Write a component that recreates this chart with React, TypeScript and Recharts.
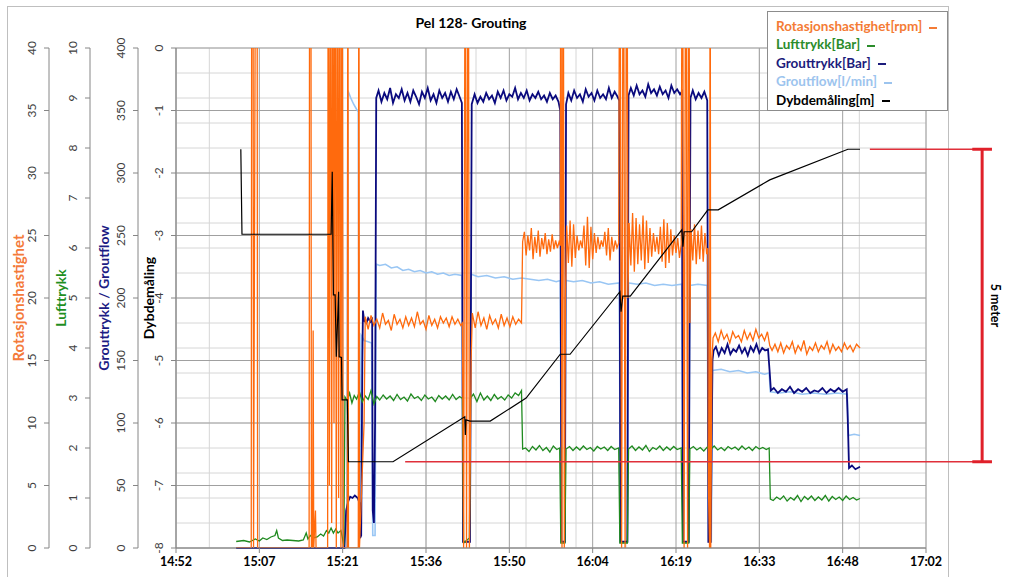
import React from "react";
import { LineChart, Line, XAxis, YAxis, CartesianGrid, ReferenceLine } from "recharts";

// time in minutes after midnight, values in the unit of each axis
const timeTicks = [892.8, 907.2, 921.6, 936, 950.4, 964.8, 979.2, 993.6, 1008, 1022.4];
const timeLabels = ["14:52", "15:07", "15:21", "15:36", "15:50", "16:04", "16:19", "16:33", "16:48", "17:02"];
const depthTicks = [-8, -7, -6, -5, -4, -3, -2, -1, 0];
const groutTicks = [0, 50, 100, 150, 200, 250, 300, 350, 400];
const luftTicks = [0, 1, 2, 3, 4, 5, 6, 7, 8, 9, 10];
const rotTicks = [0, 5, 10, 15, 20, 25, 30, 35, 40];

const rotasjon: [number, number][] = [
  [903.2, 0], [905.8, 0], [905.9, 60], [906.1, 60], [906.2, 0], [906.6, 60], [906.8, 60], [906.9, 0],
  [915.8, 0], [915.9, 60], [916.1, 60], [916.2, 0], [916.4, 0], [916.5, 17.4], [916.6, 0], [916.9, 3], [917.0, 0],
  [919.0, 0], [919.1, 60], [919.3, 5], [919.5, 60], [919.7, 2], [919.9, 60], [920.1, 10], [920.3, 60], [920.5, 0],
  [920.7, 60], [920.9, 4], [921.1, 60], [921.3, 0], [921.5, 60], [921.7, 0], [922.4, 0], [922.5, 60], [922.6, 0],
  [924.3, 0], [924.4, 60], [924.5, 0], [925.3, 10], [925.5, 18.5],
  [926.0, 17.5], [926.5, 18.6], [927.0, 17.8], [927.5, 18.3], [928.0, 17.6], [928.5, 18.8], [929.0, 17.9], [929.5, 18.2],
  [930.0, 17.4], [930.5, 18.7], [931.0, 17.9], [931.5, 18.3], [932.0, 17.6], [932.5, 18.5], [933.0, 17.8], [933.5, 18.4],
  [934.0, 17.7], [934.5, 18.9], [935.0, 17.9], [935.5, 18.2], [936.0, 17.5], [936.5, 18.6], [937.0, 17.8], [937.5, 18.3],
  [938.0, 17.6], [938.5, 18.5], [939.0, 18.0], [939.5, 18.4], [940.0, 17.7], [940.5, 18.5], [941.0, 17.9], [941.5, 18.3],
  [942.0, 17.8], [942.3, 18.0], [942.5, 0], [942.8, 60], [943.0, 0], [943.3, 60], [943.5, 0], [943.8, 15], [944.0, 18.8],
  [944.5, 17.6], [945.0, 18.9], [945.5, 17.8], [946.0, 18.4], [946.5, 17.5], [947.0, 18.6], [947.5, 17.9], [948.0, 18.3],
  [948.5, 17.6], [949.0, 18.7], [949.5, 17.8], [950.0, 18.4], [950.5, 17.7], [951.0, 18.5], [951.5, 17.9], [952.0, 18.3],
  [952.5, 18.0], [952.7, 24.5],
  [953.0, 25.3], [953.3, 23.4], [953.6, 25.0], [953.9, 23.8], [954.2, 25.6], [954.5, 23.1], [954.8, 24.9], [955.1, 23.6],
  [955.4, 25.4], [955.7, 23.3], [956.0, 24.8], [956.3, 23.9], [956.6, 25.2], [956.9, 23.5], [957.2, 24.7], [957.5, 23.7],
  [957.8, 25.1], [958.1, 23.9], [958.4, 24.6], [958.7, 24.0], [959.0, 24.5], [959.2, 24.2], [959.3, 60], [959.5, 0],
  [959.7, 60], [959.9, 0], [960.1, 20], [960.3, 25.8],
  [960.6, 22.8], [960.9, 26.2], [961.2, 22.5], [961.5, 25.9], [961.8, 23.2], [962.1, 25.0], [962.4, 23.8], [962.7, 24.6],
  [963.0, 24.0], [963.3, 25.8], [963.6, 22.6], [963.9, 26.5], [964.2, 22.4], [964.5, 25.7], [964.8, 23.1], [965.1, 25.2],
  [965.4, 23.6], [965.7, 24.9], [966.0, 23.9], [966.3, 24.6], [966.6, 24.1], [966.9, 25.3], [967.2, 23.4], [967.5, 25.6],
  [967.8, 23.0], [968.1, 24.9], [968.4, 23.7], [968.7, 24.6], [969.0, 24.0], [969.3, 24.4], [969.5, 60], [969.8, 0],
  [970.1, 60], [970.4, 0], [970.7, 60], [970.9, 20], [971.1, 26.0],
  [971.4, 22.6], [971.7, 26.8], [972.0, 22.1], [972.3, 26.4], [972.6, 22.7], [972.9, 25.9], [973.2, 23.0], [973.5, 26.6],
  [973.8, 22.3], [974.1, 26.2], [974.4, 22.8], [974.7, 25.6], [975.0, 23.3], [975.3, 25.2], [975.6, 23.7], [975.9, 24.9],
  [976.2, 23.5], [976.5, 25.7], [976.8, 22.9], [977.1, 26.3], [977.4, 22.4], [977.7, 26.0], [978.0, 22.8], [978.3, 25.5],
  [978.6, 23.4], [978.9, 25.0], [979.2, 23.6], [979.5, 24.8], [979.8, 23.2], [980.1, 24.3], [980.3, 60], [980.6, 0],
  [980.9, 60], [981.2, 0], [981.4, 60], [981.6, 18], [981.8, 25.5],
  [982.1, 23.0], [982.4, 25.9], [982.7, 22.7], [983.0, 25.4], [983.3, 23.1], [983.6, 25.8], [983.9, 22.9], [984.2, 25.2],
  [984.5, 23.5], [984.7, 24.0], [984.8, 5], [985.0, 0], [985.1, 60], [985.2, 0], [985.4, 15], [985.6, 16.8],
  [986.0, 17.2], [986.5, 16.5], [987.0, 17.4], [987.5, 16.7], [988.0, 17.1], [988.5, 16.4], [989.0, 17.3], [989.5, 16.8],
  [990.0, 17.0], [990.5, 16.5], [991.0, 17.4], [991.5, 16.7], [992.0, 17.2], [992.5, 16.6], [993.0, 17.5], [993.5, 16.8],
  [994.0, 17.1], [994.5, 16.6], [995.0, 17.3], [995.4, 16.2],
  [995.8, 15.8], [996.3, 16.3], [996.8, 15.7], [997.3, 16.4], [997.8, 15.6], [998.3, 16.2], [998.8, 15.9], [999.3, 16.5],
  [999.8, 15.6], [1000.3, 16.2], [1000.8, 15.8], [1001.3, 16.6], [1001.8, 15.5], [1002.3, 16.1], [1002.8, 15.8],
  [1003.3, 16.4], [1003.8, 15.7], [1004.3, 16.2], [1004.8, 15.9], [1005.3, 16.5], [1005.8, 15.6], [1006.3, 16.3],
  [1006.8, 15.8], [1007.3, 16.1], [1007.8, 15.7], [1008.3, 16.4], [1008.8, 15.9], [1009.3, 16.2], [1009.8, 15.7],
  [1010.4, 16.3], [1011.0, 16.0],
];

const lufttrykk: [number, number][] = [
  [903.2, 0.13], [904.5, 0.15], [905.5, 0.12], [906.5, 0.18], [907.2, 0.14], [907.8, 0.2], [908.5, 0.17], [909.2, 0.22],
  [909.9, 0.25], [910.2, 0.35], [910.5, 0.2], [911.2, 0.15], [912.0, 0.16], [913.0, 0.15], [914.0, 0.14], [914.8, 0.16],
  [915.3, 0.3], [915.6, 0.18], [916.0, 0.25], [916.5, 0.2], [917.2, 0.22], [917.8, 0.28], [918.3, 0.24], [918.8, 0.35],
  [919.2, 0.3], [919.6, 0.4], [920.0, 0.3], [920.4, 0.38], [920.8, 0.3], [921.3, 0.35], [921.8, 0.05], [922.0, 3.02],
  [922.4, 2.95], [922.8, 3.1], [923.2, 2.9], [923.6, 3.05], [924.0, 2.98], [924.5, 3.12], [925.0, 2.92], [925.5, 3.04],
  [926.0, 2.97], [926.5, 3.15], [927.0, 2.88], [927.5, 3.03], [928.0, 2.96], [928.6, 3.06], [929.2, 2.98], [929.8, 3.04],
  [930.4, 2.95], [931.0, 3.07], [931.6, 2.97], [932.2, 3.02], [932.8, 2.94], [933.4, 3.08], [934.0, 2.99], [934.6, 3.03],
  [935.2, 2.95], [935.8, 3.06], [936.4, 2.98], [937.0, 3.02], [937.6, 2.93], [938.2, 3.05], [938.8, 2.98], [939.4, 3.04],
  [940.0, 2.96], [940.6, 3.07], [941.2, 2.97], [941.8, 3.03], [942.3, 2.99], [942.5, 0.1], [943.5, 0.2], [943.7, 3.0],
  [944.2, 3.08], [944.8, 2.93], [945.4, 3.1], [946.0, 2.96], [946.6, 3.04], [947.2, 2.95], [947.8, 3.07], [948.4, 2.98],
  [949.0, 3.03], [949.6, 2.96], [950.2, 3.06], [950.8, 3.0], [951.4, 3.1], [952.0, 3.05], [952.5, 3.15], [952.7, 1.98],
  [953.2, 2.0], [953.8, 1.93], [954.4, 2.03], [955.0, 1.96], [955.6, 2.05], [956.2, 1.95], [956.8, 2.01], [957.4, 1.92],
  [958.0, 2.04], [958.6, 1.97], [959.1, 2.0], [959.3, 0.1], [960.0, 0.1], [960.2, 1.98], [960.8, 2.03], [961.4, 1.95],
  [962.0, 2.02], [962.6, 1.96], [963.2, 2.04], [963.8, 1.97], [964.4, 2.01], [965.0, 1.94], [965.6, 2.03], [966.2, 1.98],
  [966.8, 2.02], [967.4, 1.95], [968.0, 2.03], [968.6, 1.97], [969.3, 2.0], [969.5, 0.1], [970.8, 0.1], [971.0, 1.98],
  [971.6, 2.04], [972.2, 1.95], [972.8, 2.02], [973.4, 1.96], [974.0, 2.05], [974.6, 1.93], [975.2, 2.01], [975.8, 1.97],
  [976.4, 2.04], [977.0, 1.95], [977.6, 2.02], [978.2, 1.96], [978.8, 2.03], [979.4, 1.97], [980.1, 2.0], [980.3, 0.1],
  [981.4, 0.1], [981.6, 1.98], [982.2, 2.03], [982.8, 1.96], [983.4, 2.01], [984.0, 1.94], [984.6, 2.02], [985.2, 1.97],
  [985.8, 2.04], [986.4, 1.96], [987.0, 2.01], [987.6, 1.95], [988.2, 2.03], [988.8, 1.98], [989.4, 2.02], [990.0, 1.96],
  [990.6, 2.04], [991.2, 1.97], [991.8, 2.02], [992.4, 1.95], [993.0, 2.03], [993.6, 1.98], [994.2, 2.01], [994.8, 1.97],
  [995.3, 2.0], [995.5, 0.98], [996.0, 0.95], [996.6, 1.02], [997.2, 0.97], [997.8, 1.04], [998.4, 0.94], [999.0, 1.01],
  [999.6, 0.96], [1000.2, 1.05], [1000.8, 0.93], [1001.4, 1.03], [1002.0, 0.97], [1002.6, 1.04], [1003.2, 0.95],
  [1003.8, 1.02], [1004.4, 0.96], [1005.0, 1.05], [1005.6, 0.94], [1006.2, 1.03], [1006.8, 0.97], [1007.4, 1.02],
  [1008.0, 0.95], [1008.6, 1.04], [1009.2, 0.97], [1009.8, 1.01], [1010.4, 0.96], [1011.0, 0.99],
];

const grouttrykk: [number, number][] = [
  [903.2, 0], [921.9, 0], [922.2, 30], [922.6, 38], [922.9, 41], [923.3, 40], [923.7, 42], [924.2, 40], [924.5, 36],
  [924.6, 8], [924.8, 10], [925.0, 150], [925.1, 190], [925.3, 182], [925.7, 180], [926.0, 184], [926.4, 181],
  [926.7, 183], [926.8, 30], [927.0, 20], [927.2, 100], [927.4, 360],
  [927.8, 366], [928.3, 357], [928.8, 364], [929.3, 359], [929.8, 368], [930.3, 356], [930.8, 363], [931.3, 360],
  [931.8, 367], [932.3, 358], [932.8, 364], [933.3, 357], [933.8, 366], [934.3, 361], [934.8, 355], [935.3, 365],
  [935.8, 360], [936.3, 368], [936.8, 358], [937.3, 363], [937.8, 356], [938.3, 366], [938.8, 360], [939.3, 364],
  [939.8, 357], [940.3, 365], [940.8, 359], [941.3, 367], [941.8, 361], [942.2, 356], [942.4, 5], [943.6, 5], [943.9, 355],
  [944.4, 363], [944.9, 356], [945.4, 361], [945.9, 357], [946.4, 364], [946.9, 359], [947.4, 362], [947.9, 356],
  [948.4, 365], [948.9, 360], [949.4, 366], [949.9, 358], [950.4, 363], [950.9, 361], [951.4, 368], [951.9, 359],
  [952.4, 364], [952.9, 360], [953.4, 366], [953.9, 358], [954.4, 363], [954.9, 360], [955.4, 365], [955.9, 359],
  [956.4, 362], [956.9, 357], [957.4, 364], [957.9, 359], [958.4, 362], [958.9, 357], [959.2, 350], [959.4, 5],
  [960.0, 5], [960.2, 355], [960.6, 364], [961.1, 358], [961.6, 366], [962.1, 360], [962.6, 363], [963.1, 357],
  [963.6, 367], [964.1, 361], [964.6, 364], [965.1, 358], [965.6, 366], [966.1, 360], [966.6, 363], [967.1, 359],
  [967.6, 368], [968.1, 360], [968.6, 365], [969.1, 361], [969.4, 358], [969.6, 5], [970.8, 5], [971.0, 362],
  [971.4, 368], [971.9, 362], [972.4, 370], [972.9, 363], [973.4, 366], [973.9, 361], [974.4, 371], [974.9, 364],
  [975.4, 367], [975.9, 362], [976.4, 369], [976.9, 363], [977.4, 366], [977.9, 360], [978.4, 370], [978.9, 364],
  [979.4, 367], [979.9, 363], [980.2, 365], [980.4, 5], [981.4, 5], [981.7, 360], [982.1, 366], [982.6, 359],
  [983.1, 364], [983.6, 360], [984.1, 365], [984.6, 358], [984.8, 5], [985.2, 5], [985.5, 150], [985.7, 158],
  [986.1, 161], [986.6, 154], [987.1, 160], [987.6, 156], [988.1, 163], [988.6, 155], [989.1, 159], [989.6, 157],
  [990.1, 162], [990.6, 156], [991.1, 160], [991.6, 154], [992.1, 161], [992.6, 157], [993.1, 163], [993.6, 156],
  [994.1, 160], [994.6, 158], [995.1, 159], [995.4, 140], [995.6, 126],
  [996.1, 128], [996.8, 124], [997.5, 127], [998.2, 125], [998.9, 129], [999.6, 124], [1000.3, 127], [1001.0, 125],
  [1001.7, 128], [1002.4, 124], [1003.1, 126], [1003.8, 125], [1004.5, 128], [1005.2, 124], [1005.9, 127],
  [1006.6, 125], [1007.3, 128], [1008.0, 125], [1008.7, 127], [1008.9, 100], [1009.1, 64], [1009.6, 66],
  [1010.2, 63], [1011.0, 65],
];

const groutflow: [number, number][] = [
  [903.2, 0], [922.3, 0], [922.5, 366], [923.0, 360], [923.5, 355], [924.0, 351], [924.3, 349], [924.5, 10],
  [924.8, 170], [925.3, 166], [926.0, 165], [926.6, 164], [926.8, 10], [927.2, 10], [927.4, 227],
  [928.0, 226], [929.0, 227], [930.0, 224], [931.0, 225], [932.0, 222], [933.0, 223], [934.0, 221], [935.0, 222],
  [936.0, 220], [937.0, 221], [938.0, 219], [939.0, 220], [940.0, 218], [941.0, 219], [942.2, 218], [942.4, 5],
  [943.6, 5], [943.8, 219], [945.0, 217], [946.5, 218], [948.0, 216], [949.5, 217], [951.0, 215], [952.5, 216],
  [954.0, 215], [955.5, 214], [957.0, 215], [958.5, 213], [959.2, 214], [959.4, 5], [960.0, 5], [960.2, 214],
  [961.5, 213], [963.0, 214], [964.5, 212], [966.0, 213], [967.5, 211], [969.4, 212], [969.6, 5], [970.8, 5],
  [971.0, 212], [972.5, 211], [974.0, 212], [975.5, 210], [977.0, 211], [978.5, 210], [980.2, 211], [980.4, 5],
  [981.4, 5], [981.6, 210], [983.0, 211], [984.6, 210], [984.8, 5], [985.3, 5], [985.5, 142], [987.0, 143],
  [988.5, 141], [990.0, 142], [991.5, 140], [993.0, 141], [994.5, 139], [995.3, 140], [995.5, 125], [997.0, 124],
  [999.0, 125], [1001.0, 123], [1003.0, 124], [1005.0, 123], [1007.0, 124], [1008.8, 123], [1009.0, 90],
  [1010.0, 91], [1011.0, 90],
];

const dybde: [number, number][] = [
  [904.0, -1.62], [904.2, -2.98], [919.6, -2.98], [919.8, -1.98], [920.0, -3.95], [920.3, -3.95], [920.5, -4.94],
  [920.9, -3.9], [921.0, -4.94], [921.4, -4.95], [921.5, -5.63], [922.4, -5.63], [922.6, -6.62], [930.3, -6.62],
  [942.7, -5.9], [942.8, -6.19], [942.9, -5.95], [943.6, -5.97], [947.1, -5.97], [953.3, -5.6], [959.2, -4.9],
  [960.9, -4.9], [969.5, -3.9], [969.7, -4.22], [970.0, -3.97], [971.3, -3.97], [980.2, -2.91], [980.4, -3.18],
  [980.6, -2.94], [981.9, -2.94], [984.7, -2.59], [986.5, -2.59], [995.4, -2.11], [1008.9, -1.62], [1011.0, -1.62],
];

// "5 meter" annotation: depth levels and where the red lines start
const meterLevels = [-1.62, -6.62];
const meterLineStarts = [1012.7, 932.4];
const meterLineEnd = 1033.5;
const meterBarAt = 1032.1;

const minorTimeTicks = Array.from({ length: 46 }, (_, i) => 892.8 + i * 2.88);
const minorDepthTicks = Array.from({ length: 41 }, (_, i) => -8 + i * 0.2);

const pts = (arr: [number, number][]) => arr.map(([t, v]) => ({ t, v }));

const FONT = "Lato, 'Liberation Sans', sans-serif";

const RotatedTick = (props: any) => {
  const { x, y, payload } = props;
  const bx = x - 6.5;
  return (
    <text x={bx} y={y} transform={`rotate(-90 ${bx} ${y})`} textAnchor="middle" fontSize={12} fontFamily={FONT} fill="#404040">
      {payload.value}
    </text>
  );
};

const axisTitle = (text: string, color: string, dist: number, size = 14) => (props: any) => {
  const vb = props.viewBox;
  const bx = vb.x + vb.width - dist;
  const cy = vb.y + vb.height / 2;
  return (
    <text x={bx} y={cy} transform={`rotate(-90 ${bx} ${cy})`} textAnchor="middle" fontSize={size} fontWeight="bold" fontFamily={FONT} fill={color}>
      {text}
    </text>
  );
};

const TimeTick = (props: any) => {
  const { x, y, payload } = props;
  const idx = timeTicks.indexOf(payload.value);
  return (
    <text x={x} y={y + 11} textAnchor="middle" fontSize={12.5} fontWeight="bold" fontFamily={FONT} fill="#000">
      {idx >= 0 ? timeLabels[idx] : ""}
    </text>
  );
};

const MeterLabel = (props: any) => {
  const vb = props.viewBox;
  const bx = vb.x + 9;
  const cy = vb.y + vb.height / 2;
  return (
    <text x={bx} y={cy} transform={`rotate(90 ${bx} ${cy})`} textAnchor="middle" fontSize={12.5} fontWeight="bold" fontFamily={FONT} fill="#000">
      5 meter
    </text>
  );
};

const legendItems = [
  { name: "Rotasjonshastighet[rpm]", color: "#f47b35" },
  { name: "Lufttrykk[Bar]", color: "#2b8c2b" },
  { name: "Grouttrykk[Bar]", color: "#1c1c7c" },
  { name: "Groutflow[l/min]", color: "#9cc4ee" },
  { name: "Dybdemåling[m]", color: "#000000" },
];

const axisStroke = "#868686";

export default function App() {
  return (
    <div style={{ position: "absolute", left: 0, top: 0, width: 1024, height: 577, overflow: "hidden", background: "#fff" }}>
      <div style={{ position: "absolute", left: 7, top: 6, width: 940, height: 620, border: "1px solid #bfbfbf" }} />
      <div style={{ position: "absolute", left: 0, top: 0 }}>
        <LineChart width={1024} height={577} margin={{ top: 48, right: 98, bottom: 0, left: 9 }}>
          <XAxis xAxisId="zMinorX" type="number" dataKey="t" domain={[892.8, 1022.4]} ticks={minorTimeTicks} allowDataOverflow hide height={0} />
          <YAxis yAxisId="zMinorY" type="number" domain={[-8, 0]} ticks={minorDepthTicks} allowDataOverflow hide width={0} />
          <CartesianGrid xAxisId="zMinorX" yAxisId="zMinorY" stroke="#d6d6d6" strokeWidth={1} />
          <CartesianGrid xAxisId="x" yAxisId="depth" stroke="#a0a0a0" strokeWidth={1} />
          <XAxis
            xAxisId="x"
            type="number"
            dataKey="t"
            domain={[892.8, 1022.4]}
            ticks={timeTicks}
            interval={0}
            allowDataOverflow
            height={29}
            tickSize={5}
            stroke={axisStroke}
            tick={<TimeTick />}
          />
          <YAxis yAxisId="depth" type="number" domain={[-8, 0]} ticks={depthTicks} interval={0} width={38} tickSize={5}
            stroke={axisStroke} tick={<RotatedTick />} label={axisTitle("Dybdemåling", "#000000", 22)} />
          <YAxis yAxisId="grout" type="number" domain={[0, 400]} ticks={groutTicks} interval={0} width={48} tickSize={5}
            stroke={axisStroke} tick={<RotatedTick />} label={axisTitle("Grouttrykk / Groutflow", "#1c1c84", 29)} />
          <YAxis yAxisId="luft" type="number" domain={[0, 10]} ticks={luftTicks} interval={0} width={41} tickSize={5}
            stroke={axisStroke} tick={<RotatedTick />} label={axisTitle("Lufttrykk", "#1f8f1f", 24)} />
          <YAxis yAxisId="rot" type="number" domain={[0, 40]} ticks={rotTicks} interval={0} width={40} tickSize={5}
            allowDataOverflow stroke={axisStroke} tick={<RotatedTick />} label={axisTitle("Rotasjonshastighet", "#f47a3a", 25, 15)} />

          <Line xAxisId="x" yAxisId="grout" data={pts(groutflow)} dataKey="v" stroke="#99c6f4" strokeWidth={1.6} dot={false} isAnimationActive={false} />
          <Line xAxisId="x" yAxisId="grout" data={pts(grouttrykk)} dataKey="v" stroke="#0a0a7e" strokeWidth={1.8} dot={false} isAnimationActive={false} />
          <Line xAxisId="x" yAxisId="luft" data={pts(lufttrykk)} dataKey="v" stroke="#1f8a1f" strokeWidth={1.3} dot={false} isAnimationActive={false} />
          <Line xAxisId="x" yAxisId="rot" data={pts(rotasjon)} dataKey="v" stroke="#ff6a0d" strokeWidth={1.3} dot={false} isAnimationActive={false} />
          <Line xAxisId="x" yAxisId="depth" data={pts(dybde)} dataKey="v" stroke="#000000" strokeWidth={1.2} dot={false} isAnimationActive={false} />

          {meterLevels.map((lvl, i) => (
            <ReferenceLine key={"h" + i} xAxisId="x" yAxisId="depth" ifOverflow="visible"
              segment={[{ x: meterLineStarts[i], y: lvl }, { x: meterLineEnd, y: lvl }]} stroke="#e0303a" strokeWidth={1.5} />
          ))}
          {meterLevels.map((lvl, i) => (
            <ReferenceLine key={"c" + i} xAxisId="x" yAxisId="depth" ifOverflow="visible"
              segment={[{ x: meterBarAt - 1.7, y: lvl }, { x: meterBarAt + 1.7, y: lvl }]} stroke="#e0202a" strokeWidth={3} />
          ))}
          <ReferenceLine xAxisId="x" yAxisId="depth" ifOverflow="visible"
            segment={[{ x: meterBarAt, y: meterLevels[0] }, { x: meterBarAt, y: meterLevels[1] }]}
            stroke="#e0202a" strokeWidth={3} label={<MeterLabel />} />
        </LineChart>
      </div>
      <div style={{ position: "absolute", left: 471, top: 14, transform: "translateX(-50%)", fontFamily: FONT, fontWeight: "bold", fontSize: 14, whiteSpace: "nowrap" }}>
        Pel 128- Grouting
      </div>
      <div style={{ position: "absolute", left: 767, top: 11, width: 181, height: 100, border: "1px solid #8c8c8c", background: "#fff", boxSizing: "border-box", paddingTop: 5, paddingLeft: 8, fontFamily: FONT, fontWeight: "bold", fontSize: 13.5 }}>
        {legendItems.map((it) => (
          <div key={it.name} style={{ color: it.color, height: 18.4, lineHeight: "18.4px", whiteSpace: "nowrap" }}>
            {it.name}
            <span style={{ display: "inline-block", width: 8, height: 2, background: it.color, marginLeft: 7, verticalAlign: "middle" }} />
          </div>
        ))}
      </div>
    </div>
  );
}
